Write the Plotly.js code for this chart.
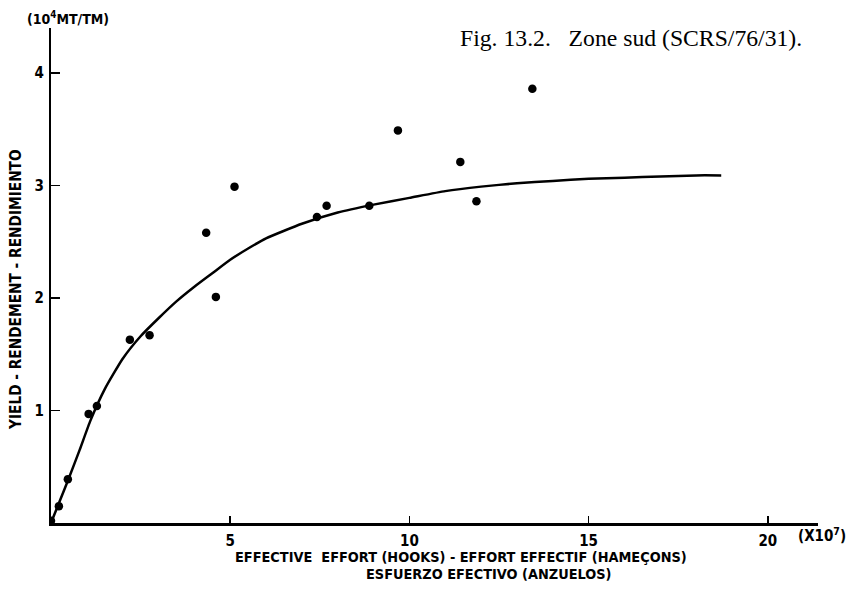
<!DOCTYPE html>
<html>
<head>
<meta charset="utf-8">
<script src="https://cdn.plot.ly/plotly-3.0.1.min.js"></script>
<style>html,body{margin:0;padding:0;background:#fff;}#chart{width:858px;height:590px;}</style>
</head>
<body>
<div id="chart"></div>
<script>
// Observed data (effective effort, x10^7 hooks; yield, 10^4 MT)
var obsEffort = [0.0, 0.22, 0.47, 1.05, 1.28, 2.2, 2.75, 4.33, 4.6, 5.12, 7.42, 7.69, 8.88, 9.68, 11.42, 11.87, 13.43];
var obsYield  = [0.02, 0.15, 0.39, 0.97, 1.04, 1.63, 1.67, 2.58, 2.01, 2.99, 2.72, 2.82, 2.82, 3.49, 3.21, 2.86, 3.86];

// Fitted production curve
var fitEffort = [0, 0.25, 0.5, 0.8, 1.1, 1.5, 2.0, 2.5, 3.0, 3.5, 4.0, 4.5, 5.0, 5.5, 6.0, 7.0, 8.0, 9.0, 10, 11, 12, 13, 14, 15, 16, 17, 18, 18.7];
var fitYield  = [0, 0.2, 0.4, 0.65, 0.91, 1.19, 1.46, 1.66, 1.82, 1.97, 2.10, 2.22, 2.34, 2.44, 2.53, 2.66, 2.76, 2.83, 2.89, 2.95, 2.99, 3.02, 3.04, 3.06, 3.07, 3.08, 3.09, 3.09];

var xTicks = [5, 10, 15, 20];
var xTickText = ['5', '10', '15', '20'];
var yTicks = [1, 2, 3, 4];
var yTickText = ['1', '2', '3', '4'];

var xTitle1 = 'EFFECTIVE  EFFORT (HOOKS) - EFFORT EFFECTIF (HAMEÇONS)';
var xTitle2 = 'ESFUERZO EFECTIVO (ANZUELOS)';
var yTitle = 'YIELD - RENDEMENT - RENDIMIENTO';
var yUnit = '(10<sup>4</sup>MT/TM)';
var xUnit = '(X10<sup>7</sup>)';
var caption = 'Fig. 13.2.   Zone sud (SCRS/76/31).';

var W = 858, H = 590, L = 51, R = 40, T = 28, B = 67;
function px(x) { return (x - L) / (W - L - R); }
function py(y) { return (H - B - y) / (H - T - B); }

var LETTER = '"Liberation Sans Narrow", "DejaVu Sans Condensed", "Arial Narrow", sans-serif';
var SERIF = '"Liberation Serif", "Times New Roman", serif';
var ctx = document.createElement('canvas').getContext('2d');
function fitSize(text, weight, family, target) {
  ctx.font = weight + ' 100px ' + family;
  return 100 * target / ctx.measureText(text).width;
}
var titleSize = fitSize(xTitle1, 'bold', LETTER, 452);
var yTitleSize = fitSize(yTitle, 'bold', LETTER, 280);
var capSize = fitSize(caption.replace(/   /g, ' \u2003 '), 'normal', SERIF, 360);

function lf(size) { return {family: LETTER, size: size, color: '#000', weight: 'bold'}; }

var traces = [
  {x: fitEffort, y: fitYield, type: 'scatter', mode: 'lines', line: {color: '#000', width: 2.5, shape: 'spline', smoothing: 0.5}, hoverinfo: 'skip', showlegend: false},
  {x: obsEffort, y: obsYield, type: 'scatter', mode: 'markers', marker: {color: '#000', size: 8.5, symbol: 'circle'}, showlegend: false}
];

var layout = {
  width: W, height: H,
  margin: {l: L, r: R, t: T, b: B, pad: 0},
  paper_bgcolor: '#fff', plot_bgcolor: '#fff',
  showlegend: false,
  xaxis: {
    range: [0, 21.4], tickvals: xTicks, ticktext: xTickText,
    ticks: 'inside', ticklen: 7, tickwidth: 1.5, tickcolor: '#000',
    showline: true, linewidth: 2.5, linecolor: '#000',
    showgrid: false, zeroline: false, fixedrange: true,
    ticklabelstandoff: 2,
    tickfont: lf(15)
  },
  yaxis: {
    range: [0, 4.4], tickvals: yTicks, ticktext: yTickText,
    ticks: 'inside', ticklen: 9, tickwidth: 1.5, tickcolor: '#000',
    showline: true, linewidth: 2.2, linecolor: '#000',
    showgrid: false, zeroline: false, fixedrange: true,
    ticklabelstandoff: 2,
    tickfont: lf(15)
  },
  annotations: [
    {text: xTitle1, xref: 'paper', yref: 'paper', x: px(461), y: py(557), showarrow: false, xanchor: 'center', yanchor: 'middle', font: lf(titleSize)},
    {text: xTitle2, xref: 'paper', yref: 'paper', x: px(488), y: py(574), showarrow: false, xanchor: 'center', yanchor: 'middle', font: lf(titleSize)},
    {text: yTitle, xref: 'paper', yref: 'paper', x: px(16), y: py(290), textangle: -90, showarrow: false, xanchor: 'center', yanchor: 'middle', font: lf(yTitleSize)},
    {text: yUnit, xref: 'paper', yref: 'paper', x: px(25), y: py(18), showarrow: false, xanchor: 'left', yanchor: 'middle', font: lf(14)},
    {text: xUnit, xref: 'paper', yref: 'paper', x: px(796), y: py(535), showarrow: false, xanchor: 'left', yanchor: 'middle', font: lf(15)},
    {text: caption, xref: 'paper', yref: 'paper', x: px(458), y: py(38), showarrow: false, xanchor: 'left', yanchor: 'middle', font: {family: SERIF, size: capSize, color: '#000'}}
  ]
};

Plotly.newPlot('chart', traces, layout, {staticPlot: true, displayModeBar: false});
</script>
</body>
</html>
